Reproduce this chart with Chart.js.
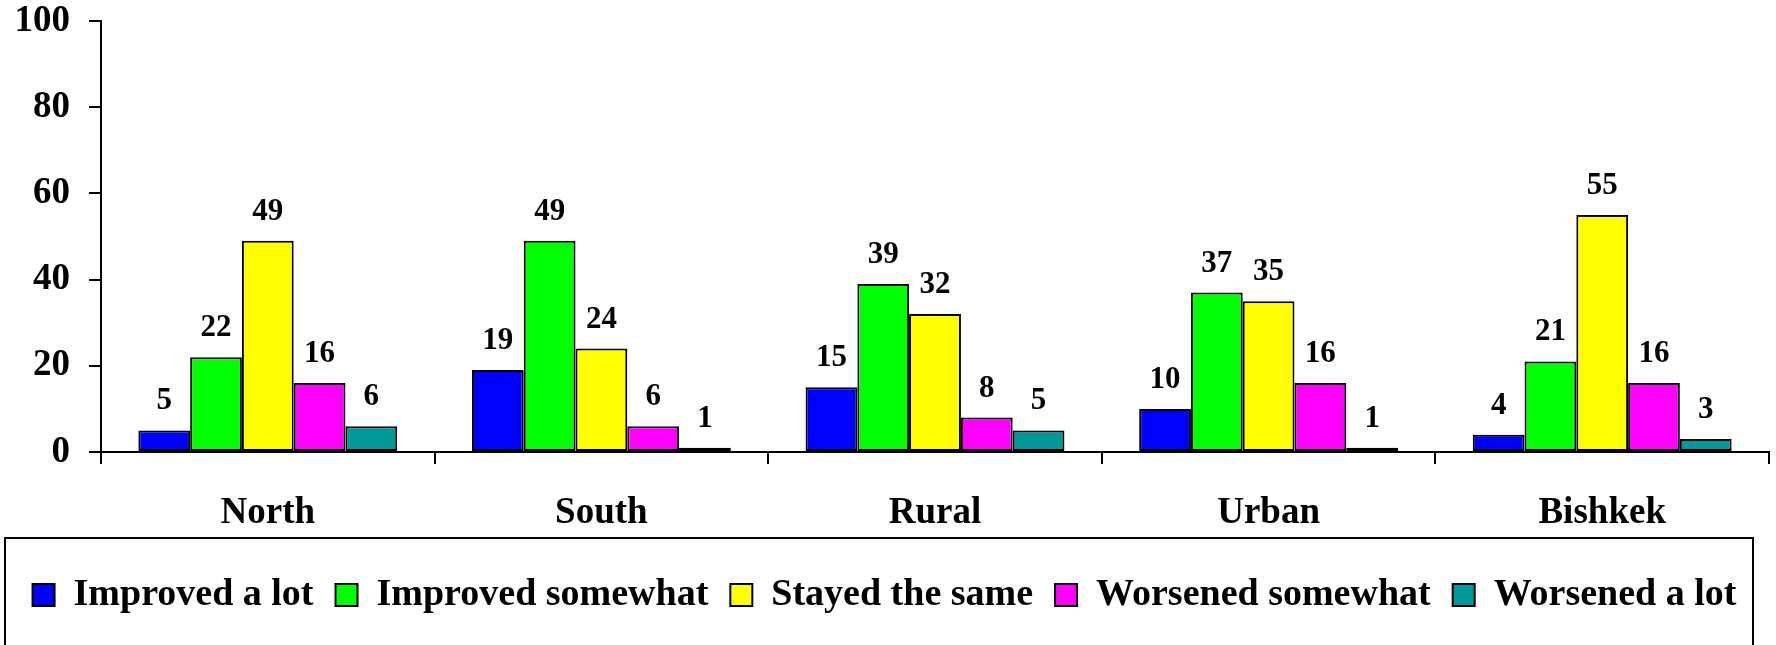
<!DOCTYPE html>
<html>
<head>
<meta charset="utf-8">
<script src="https://cdn.jsdelivr.net/npm/chart.js@4/dist/chart.umd.min.js"></script>
<style>
  html, body { margin: 0; padding: 0; background: #fff; }
  #wrap { width: 1776px; height: 645px; }
</style>
</head>
<body>
<div id="wrap"><canvas id="barChart" width="1776" height="645"></canvas></div>
<script>
const regions = ['North', 'South', 'Rural', 'Urban', 'Bishkek'];
const improvedLot = [5, 19, 15, 10, 4];
const improvedSomewhat = [22, 49, 39, 37, 21];
const stayedSame = [49, 24, 32, 35, 55];
const worsenedSomewhat = [16, 6, 8, 16, 16];
const worsenedLot = [6, 1, 5, 1, 3];
const yTicks = [0, 20, 40, 60, 80, 100];

const serif = "'Liberation Serif', 'Times New Roman', serif";

// value labels above each bar
const barLabels = {
  id: 'barLabels',
  afterDatasetsDraw(chart) {
    const ctx = chart.ctx;
    ctx.save();
    ctx.font = 'bold 31px ' + serif;
    ctx.fillStyle = '#000';
    ctx.textAlign = 'center';
    ctx.textBaseline = 'alphabetic';
    chart.data.datasets.forEach((ds, i) => {
      chart.getDatasetMeta(i).data.forEach((bar, j) => {
        ctx.fillText(ds.data[j], bar.x, bar.y - 21);
      });
    });
    ctx.restore();
  }
};

// frame round the legend
const legendBox = {
  id: 'legendBox',
  afterDraw(chart) {
    const lg = chart.legend;
    const ctx = chart.ctx;
    ctx.save();
    ctx.strokeStyle = '#000';
    ctx.lineWidth = 2;
    ctx.strokeRect(5, lg.top - 16, chart.width - 28, chart.height);
    ctx.restore();
  }
};

function makeSet(label, data, color) {
  return {
    label: label,
    data: data,
    backgroundColor: color,
    borderColor: '#000',
    borderWidth: 2,
    borderSkipped: false,
    barPercentage: 1.0,
    categoryPercentage: 0.776
  };
}

var ctx = document.getElementById('barChart').getContext('2d');
var myChart = new Chart(ctx, {
  type: 'bar',
  data: {
    labels: regions,
    datasets: [
      makeSet('Improved a lot', improvedLot, '#0000ff'),
      makeSet('Improved somewhat', improvedSomewhat, '#00ff00'),
      makeSet('Stayed the same', stayedSame, '#ffff00'),
      makeSet('Worsened somewhat', worsenedSomewhat, '#ff00ff'),
      makeSet('Worsened a lot', worsenedLot, '#009999')
    ]
  },
  options: {
    responsive: false,
    maintainAspectRatio: false,
    animation: false,
    layout: { padding: { left: 0, right: 7, top: 21, bottom: 21 } },
    plugins: {
      tooltip: { enabled: false },
      legend: {
        position: 'bottom',
        labels: {
          boxWidth: 22,
          boxHeight: 22,
          padding: 22,
          color: '#000',
          font: { family: serif, size: 38, weight: 'bold' }
        }
      }
    },
    scales: {
      x: {
        afterFit(axis) {
          axis.height = 102;
        },
        grid: {
          display: true,
          drawOnChartArea: false,
          drawTicks: true,
          tickLength: 12,
          color: '#000',
          lineWidth: 2,
          offset: true
        },
        border: { display: true, color: '#000', width: 2 },
        ticks: {
          color: '#000',
          padding: 27,
          font: { family: serif, size: 37, weight: 'bold' }
        }
      },
      y: {
        min: 0,
        max: 100,
        afterBuildTicks(axis) {
          axis.ticks = yTicks.map(v => ({ value: v }));
        },
        afterFit(axis) {
          axis.width = 101;
          axis.paddingTop = 0;
          axis.paddingBottom = 0;
        },
        grid: {
          display: true,
          drawOnChartArea: false,
          drawTicks: true,
          tickLength: 12,
          color: '#000',
          lineWidth: 2
        },
        border: { display: true, color: '#000', width: 2 },
        ticks: {
          color: '#000',
          padding: 19,
          font: { family: serif, size: 37, weight: 'bold' }
        }
      }
    }
  },
  plugins: [barLabels, legendBox]
});
</script>
</body>
</html>
